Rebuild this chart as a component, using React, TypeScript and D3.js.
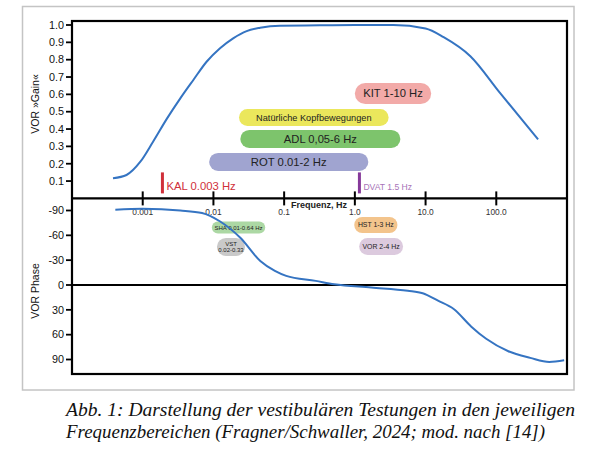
import React, { useEffect, useRef } from 'react';
import * as d3 from 'd3';

// frequency (Hz) / value pairs
const gainFreq = [0.00038, 0.00059, 0.00092, 0.0014, 0.0022, 0.0034, 0.0052, 0.008, 0.0124, 0.019, 0.0295, 0.0457, 0.0875, 0.32, 1.0, 3.5, 10, 18, 43, 112, 390];
const gainValues = [0.116, 0.135, 0.21, 0.327, 0.46, 0.577, 0.683, 0.788, 0.866, 0.923, 0.965, 0.984, 0.996, 0.998, 1.0, 1.0, 0.98, 0.93, 0.82, 0.61, 0.34];

const phaseFreq = [0.00041, 0.001, 0.0034, 0.0069, 0.0123, 0.024, 0.046, 0.074, 0.107, 0.28, 0.51, 1.7, 5.6, 9.1, 15, 25, 44, 72, 148, 302, 562, 912];
const phaseValues = [-91, -92, -90, -87, -77, -57, -29, -17, -11, -5, -1, 3, 7, 10, 19, 29, 50, 65, 80, 88, 93, 91];

const freqTicks = [0.001, 0.01, 0.1, 1, 10, 100];
const freqTickLabels = ['0.001', '0.01', '0.1', '1.0', '10.0', '100.0'];
const gainTicks = [0.1, 0.2, 0.3, 0.4, 0.5, 0.6, 0.7, 0.8, 0.9, 1.0];
const phaseTicks = [-90, -60, -30, 0, 30, 60, 90];

// test ranges: label, from Hz, to Hz, row value
const gainBands = [
  { label: 'KIT 1-10 Hz', lo: 1.0, hi: 12, row: 0.605, fill: '#f2aaa8', size: 11.2, h: 21 },
  { label: 'Natürliche Kopfbewegungen', lo: 0.023, hi: 3.0, row: 0.467, fill: '#ebe75c', size: 9.2, h: 17 },
  { label: 'ADL 0,05-6 Hz', lo: 0.024, hi: 4.4, row: 0.343, fill: '#7dc46c', size: 11.2, h: 18 },
  { label: 'ROT 0.01-2 Hz', lo: 0.0087, hi: 1.55, row: 0.21, fill: '#a0a4d0', size: 11.3, h: 18 },
];
const phaseBands = [
  { label: 'SHA 0.01-0.64 Hz', lo: 0.0095, hi: 0.054, row: -69.5, fill: '#acd8a4', size: 6, h: 12 },
  { label: 'VST|0.02-0.33', lo: 0.0112, hi: 0.028, row: -46, fill: '#c9c9c9', size: 6, h: 18 },
  { label: 'HST 1-3 Hz', lo: 0.98, hi: 4.0, row: -72.5, fill: '#f3c48c', size: 6.9, h: 16 },
  { label: 'VOR 2-4 Hz', lo: 1.15, hi: 4.8, row: -46.5, fill: '#dccade', size: 6.9, h: 17 },
];
const markers = [
  { label: 'KAL 0.003 Hz', freq: 0.0019, bar: '#d0303a', text: '#d0303a', size: 11.3 },
  { label: 'DVAT 1.5 Hz', freq: 1.16, bar: '#86399a', text: '#a874b8', size: 8.6 },
];

const captionLines = [
  'Abb. 1: Darstellung der vestibulären Testungen in den jeweiligen',
  'Frequenzbereichen (Fragner/Schwaller, 2024; mod. nach [14])',
];

const SANS = '"Liberation Sans", Arial, sans-serif';

const App: React.FC = () => {
  const svgRef = useRef<SVGSVGElement>(null);

  useEffect(() => {
    if (!svgRef.current) return;
    const svg = d3.select(svgRef.current);
    svg.selectAll('*').remove();

    const left = 72, right = 567, top = 21, bottom = 374;
    const x = d3.scaleLog().domain([1e-4, 1e3]).range([left, right]);
    const yGain = d3.scaleLinear().domain([0, 1]).range([198.4, 25]);
    const yPhase = d3.scaleLinear().domain([-90, 90]).range([210.5, 359.5]);
    const midY = yGain(0);

    // outer frame
    svg.append('rect')
      .attr('x', 22.5).attr('y', 6.5).attr('width', 551.5).attr('height', 383.5)
      .attr('fill', 'white').attr('stroke', '#c4c4c4').attr('stroke-width', 1.5);

    // bands
    const drawBands = (bands: typeof gainBands, y: (v: number) => number) => {
      bands.forEach(b => {
        const x0 = x(b.lo), x1 = x(b.hi), cy = y(b.row);
        svg.append('rect')
          .attr('x', x0).attr('y', cy - b.h / 2)
          .attr('width', x1 - x0).attr('height', b.h)
          .attr('rx', b.h / 2).attr('fill', b.fill);
        const lines = b.label.split('|');
        lines.forEach((t, i) => {
          svg.append('text')
            .attr('x', (x0 + x1) / 2)
            .attr('y', cy + (i - (lines.length - 1) / 2) * b.size * 1.15)
            .attr('dy', '0.35em')
            .attr('text-anchor', 'middle')
            .attr('font-family', SANS).attr('font-size', b.size)
            .attr('fill', '#222')
            .text(t);
        });
      });
    };
    drawBands(gainBands, yGain);
    drawBands(phaseBands, yPhase);

    // markers
    markers.forEach(m => {
      const mx = x(m.freq);
      svg.append('line')
        .attr('x1', mx).attr('x2', mx).attr('y1', midY - 26).attr('y2', midY - 5)
        .attr('stroke', m.bar).attr('stroke-width', 3);
      svg.append('text')
        .attr('x', mx + 4).attr('y', midY - 8)
        .attr('font-family', SANS).attr('font-size', m.size)
        .attr('fill', m.text).text(m.label);
    });

    // plot box and axes
    svg.append('rect')
      .attr('x', left).attr('y', top).attr('width', right - left).attr('height', bottom - top)
      .attr('fill', 'none').attr('stroke', '#000').attr('stroke-width', 2.2);
    svg.append('line')
      .attr('x1', left).attr('x2', right).attr('y1', midY).attr('y2', midY)
      .attr('stroke', '#000').attr('stroke-width', 2.2);
    svg.append('line')
      .attr('x1', left).attr('x2', right).attr('y1', yPhase(0)).attr('y2', yPhase(0))
      .attr('stroke', '#000').attr('stroke-width', 2.2);

    freqTicks.forEach((f, i) => {
      svg.append('line')
        .attr('x1', x(f)).attr('x2', x(f)).attr('y1', midY - 7).attr('y2', midY + 7)
        .attr('stroke', '#000').attr('stroke-width', 2);
      svg.append('text')
        .attr('x', x(f)).attr('y', midY + 17)
        .attr('text-anchor', 'middle')
        .attr('font-family', SANS).attr('font-size', 8.4).attr('fill', '#333')
        .text(freqTickLabels[i]);
    });
    svg.append('text')
      .attr('x', 291).attr('y', midY + 10)
      .attr('font-family', SANS).attr('font-size', 9).attr('font-weight', 600).attr('fill', '#222')
      .text('Frequenz, Hz');

    gainTicks.forEach(g => {
      svg.append('line')
        .attr('x1', left - 6).attr('x2', left).attr('y1', yGain(g)).attr('y2', yGain(g))
        .attr('stroke', '#000').attr('stroke-width', 1.8);
      svg.append('text')
        .attr('x', left - 8).attr('y', yGain(g)).attr('dy', '0.35em')
        .attr('text-anchor', 'end')
        .attr('font-family', SANS).attr('font-size', 10.8).attr('fill', '#111')
        .text(g.toFixed(1));
    });
    phaseTicks.forEach(p => {
      svg.append('line')
        .attr('x1', left - 6).attr('x2', left).attr('y1', yPhase(p)).attr('y2', yPhase(p))
        .attr('stroke', '#000').attr('stroke-width', 1.8);
      svg.append('text')
        .attr('x', left - 8).attr('y', yPhase(p)).attr('dy', '0.35em')
        .attr('text-anchor', 'end')
        .attr('font-family', SANS).attr('font-size', 10.8).attr('fill', '#111')
        .text(String(p));
    });

    const yLabel = (t: string, cy: number) =>
      svg.append('text')
        .attr('transform', `translate(39,${cy}) rotate(-90)`)
        .attr('text-anchor', 'middle')
        .attr('font-family', SANS).attr('font-size', 10.5).attr('fill', '#111')
        .text(t);
    yLabel('VOR »Gain«', 104);
    yLabel('VOR Phase', 291);

    // curves
    const line = d3.line<[number, number]>().curve(d3.curveMonotoneX);
    svg.append('path')
      .attr('d', line(gainFreq.map((f, i) => [x(f), yGain(gainValues[i])])))
      .attr('fill', 'none').attr('stroke', '#3574c2').attr('stroke-width', 2);
    svg.append('path')
      .attr('d', line(phaseFreq.map((f, i) => [x(f), yPhase(phaseValues[i])])))
      .attr('fill', 'none').attr('stroke', '#3574c2').attr('stroke-width', 2);

    // caption
    const capWidths = [509, 479];
    captionLines.forEach((t, i) => {
      svg.append('text')
        .attr('x', 66).attr('y', 416 + i * 22)
        .attr('font-family', '"Liberation Serif", "Times New Roman", serif')
        .attr('font-style', 'italic').attr('font-size', 18).attr('fill', '#111')
        .attr('textLength', capWidths[i]).attr('lengthAdjust', 'spacingAndGlyphs')
        .text(t);
    });
  }, []);

  return (
    <svg
      ref={svgRef}
      width={600}
      height={450}
      style={{ position: 'absolute', left: 0, top: 0, background: 'white' }}
    />
  );
};

export default App;
